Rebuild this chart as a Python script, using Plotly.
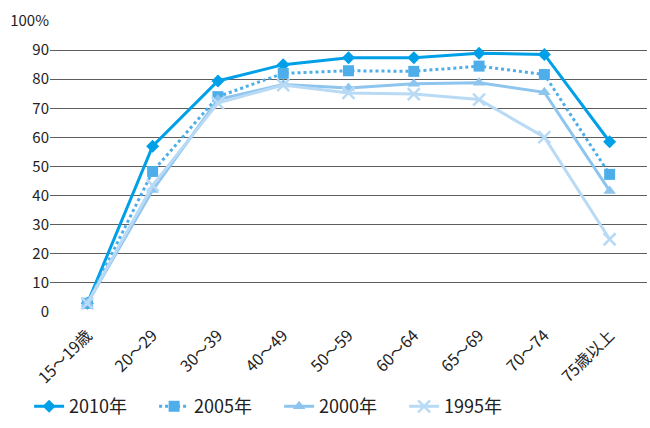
import plotly.graph_objects as go

age_groups = ["15～19歳", "20～29", "30～39", "40～49", "50～59", "60～64", "65～69", "70～74", "75歳以上"]
rate_2010 = [3.0, 57.0, 79.4, 85.0, 87.4, 87.4, 88.9, 88.5, 58.5]
rate_2005 = [3.0, 48.3, 74.0, 82.0, 82.9, 82.7, 84.5, 81.6, 47.3]
rate_2000 = [3.0, 41.9, 73.0, 78.2, 77.0, 78.4, 78.8, 75.5, 41.6]
rate_1995 = [3.0, 43.5, 71.8, 78.0, 75.3, 74.9, 73.0, 60.1, 25.0]

y_ticks = [0, 10, 20, 30, 40, 50, 60, 70, 80, 90, 100]
y_tick_text = ["0", "10", "20", "30", "40", "50", "60", "70", "80", "90", "100%"]

font_family = "Noto Sans CJK JP, Noto Sans, sans-serif"

series = [
    ("2010年", rate_2010, "#00a0e9", "solid", "diamond", 10),
    ("2005年", rate_2005, "#4daeea", "dot", "square", 11),
    ("2000年", rate_2000, "#8ec5ef", "solid", "triangle-up", 11),
    ("1995年", rate_1995, "#b8daf5", "solid", "x-thin", 12),
]

fig = go.Figure()
for name, vals, color, dash, symbol, size in series:
    fig.add_trace(go.Scatter(
        x=age_groups, y=vals, name=name, mode="lines+markers",
        line=dict(color=color, width=3, dash=dash),
        marker=dict(symbol=symbol, size=size, color=color,
                    line=dict(color=color, width=2.5 if symbol == "x-thin" else 0)),
    ))

fig.update_layout(
    width=650, height=428,
    margin=dict(l=50, r=3, t=21, b=110),
    paper_bgcolor="white", plot_bgcolor="white",
    font=dict(family=font_family, size=15, color="#222"),
    showlegend=True,
    legend=dict(orientation="h", x=-0.035, xanchor="left", y=-0.325, yanchor="middle",
                font=dict(size=18, color="#222"), entrywidth=80, entrywidthmode="pixels",
                tracegroupgap=0),
    xaxis=dict(tickangle=-45, showgrid=False, zeroline=False, showline=False,
               ticks="", tickfont=dict(size=16), automargin=False,
               ticklabelstandoff=10),
    yaxis=dict(range=[0, 100], tickvals=y_ticks, ticktext=y_tick_text,
               showgrid=True, gridcolor="#5e5e5e", gridwidth=1, zeroline=False,
               showline=False, ticks="", tickfont=dict(size=15), automargin=False),
)

fig.write_html("out.html")
